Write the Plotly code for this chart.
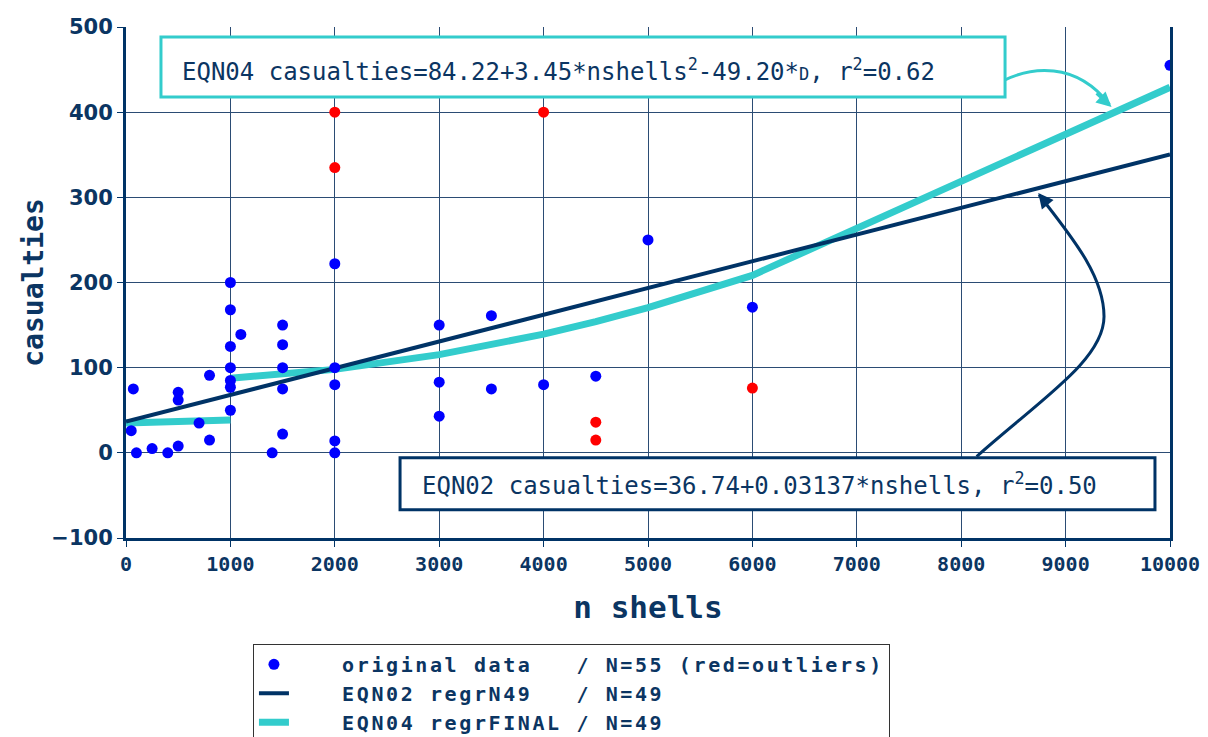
import plotly.graph_objects as go

# ---- data ----
blue_x = [50, 70, 100, 250, 400, 500, 500, 500, 700, 800, 800,
          1000, 1000, 1000, 1000, 1000, 1000, 1000, 1100, 1400,
          1500, 1500, 1500, 1500, 1500,
          2000, 2000, 2000, 2000, 2000,
          3000, 3000, 3000, 3500, 3500, 4000, 4500, 5000, 6000, 10000]
blue_y = [26, 75, 0, 5, 0, 8, 62, 71, 35, 91, 15,
          200, 168, 125, 100, 85, 77, 50, 139, 0,
          150, 127, 100, 75, 22,
          222, 100, 80, 14, 0,
          150, 83, 43, 161, 75, 80, 90, 250, 171, 455]
red_x = [2000, 2000, 4000, 4500, 4500, 6000]
red_y = [400, 335, 400, 36, 15, 76]

eqn02_x = [0, 10000]
eqn02_y = [36.7, 350.4]

eqn04_x = [0, 500, 1000, None, 1000, 1500, 2000, 3000, 3500, 4000, 4500, 5000, 6000, 10000]
eqn04_y = [35.0, 35.9, 38.5, None, 87.7, 92.0, 98.0, 115.3, 126.5, 139.4, 154.1, 170.5, 208.4, 429.2]

x_ticks = [0, 1000, 2000, 3000, 4000, 5000, 6000, 7000, 8000, 9000, 10000]
y_ticks = [-100, 0, 100, 200, 300, 400, 500]

NAVY = "#003366"
TXT = "#0b3562"
CYAN = "#33cccc"
GRID = "#2b4c74"
MONO = "DejaVu Sans Mono"
NB = "\u00a0"

def pad(s):
    return NB * 4 + "<span style='letter-spacing:2.6px'>" + s.replace(" ", NB) + "</span>"

fig = go.Figure()

fig.add_trace(go.Scatter(x=eqn04_x, y=eqn04_y, mode="lines", connectgaps=False,
                         line=dict(color=CYAN, width=7),
                         name=pad("EQN04 regrFINAL / N=49"), legendrank=3))
fig.add_trace(go.Scatter(x=eqn02_x, y=eqn02_y, mode="lines",
                         line=dict(color=NAVY, width=4),
                         name=pad("EQN02 regrN49   / N=49"), legendrank=2))
fig.add_trace(go.Scatter(x=blue_x, y=blue_y, mode="markers",
                         marker=dict(color="#0000ff", size=11),
                         name=pad("original data   / N=55 (red=outliers)"), legendrank=1))
fig.add_trace(go.Scatter(x=red_x, y=red_y, mode="markers",
                         marker=dict(color="#ff0000", size=11),
                         showlegend=False))

# annotation boxes
fig.add_shape(type="rect", xref="x", yref="y", x0=335, x1=8420, y0=417.8, y1=488.3,
              line=dict(color=CYAN, width=3), fillcolor="white", layer="above")
fig.add_shape(type="rect", xref="x", yref="y", x0=2625, x1=9856, y0=-66.9, y1=-5.9,
              line=dict(color=NAVY, width=3), fillcolor="white", layer="above")

# curved arrows
fig.add_shape(type="path", xref="x", yref="y",
              path="M 8420 437.8 C 8659 451.9, 9090 461.3, 9420 409",
              line=dict(color=CYAN, width=3), layer="above")
fig.add_shape(type="path", xref="x", yref="y",
              path="M 8148 -4.3 C 8755 62.2, 9368 109.2, 9368 160 C 9368 208.9, 9042 255.9, 8745 303",
              line=dict(color=NAVY, width=3), layer="above")

fig.add_annotation(x=9440, y=406, ax=9282, ay=423.7, xref="x", yref="y", axref="x", ayref="y",
                   text="", showarrow=True, arrowhead=2, arrowsize=1, arrowwidth=3, arrowcolor=CYAN)
fig.add_annotation(x=8738, y=305, ax=8831, ay=291, xref="x", yref="y", axref="x", ayref="y",
                   text="", showarrow=True, arrowhead=2, arrowsize=1, arrowwidth=3, arrowcolor=NAVY)

fig.add_annotation(x=517, y=449.5, xref="x", yref="y", xanchor="left", yanchor="middle",
                   showarrow=False,
                   text="EQN04 casualties=84.22+3.45*nshells<sup>2</sup>-49.20*<span style='font-size:17px'>D</span>, r<sup>2</sup>=0.62",
                   font=dict(family=MONO, size=24, color=TXT))
fig.add_annotation(x=2816, y=-36.4, xref="x", yref="y", xanchor="left", yanchor="middle",
                   showarrow=False,
                   text="EQN02 casualties=36.74+0.03137*nshells, r<sup>2</sup>=0.50",
                   font=dict(family=MONO, size=24, color=TXT))

fig.update_layout(
    width=1208, height=737,
    margin=dict(l=118, r=46, t=19, b=207, autoexpand=False),
    paper_bgcolor="white", plot_bgcolor="white",
    showlegend=True,
    legend=dict(x=0.1216, y=-0.207, xanchor="left", yanchor="top",
                bordercolor="#333333", borderwidth=1, bgcolor="white",
                font=dict(family=MONO, size=20, color=TXT, weight="bold"),
                tracegroupgap=0),
    xaxis=dict(range=[0, 10000], tickvals=x_ticks, ticktext=[str(v) for v in x_ticks],
               automargin=False,
               showgrid=True, gridcolor=GRID, gridwidth=1, zeroline=False,
               showline=True, linecolor=NAVY, linewidth=3,
               ticks="outside", ticklen=6, tickcolor=NAVY, tickwidth=1,
               tickfont=dict(family=MONO, size=20, color=TXT, weight="bold"),
               title=dict(text="n shells", font=dict(family=MONO, size=31, color=TXT, weight="bold"), standoff=22)),
    yaxis=dict(range=[-100, 500], tickvals=y_ticks, automargin=False,
               showgrid=True, gridcolor=GRID, gridwidth=1, zeroline=False,
               showline=True, linecolor=NAVY, linewidth=3, mirror=True,
               ticks="outside", ticklen=6, tickcolor=NAVY, tickwidth=1,
               tickfont=dict(family="DejaVu Sans", size=21, color=TXT, weight="bold"),
               title=dict(text="casualties", font=dict(family=MONO, size=28, color=TXT, weight="bold"), standoff=0)),
)

fig.write_html("out.html")
